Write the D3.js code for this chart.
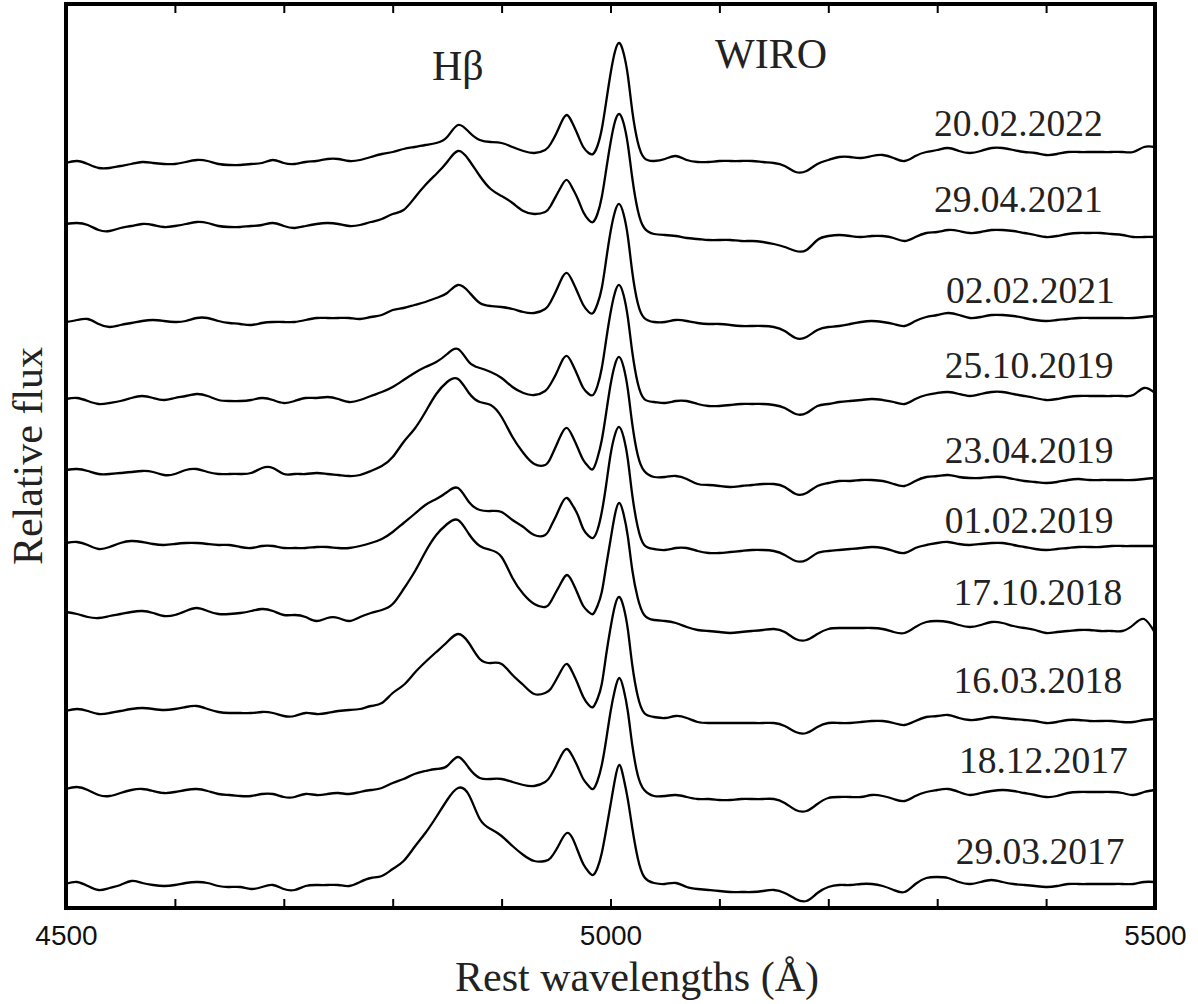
<!DOCTYPE html>
<html><head><meta charset="utf-8">
<script src="https://cdn.jsdelivr.net/npm/d3@7"></script>
<style>body{margin:0;background:#fff}</style>
</head><body>
<svg id="chart" width="1198" height="1004"></svg>
<script>
// ---- data ----
const wavelengths = [
4500,4510,4520,4530,4540,4550,4560,4570,4580,4590,
4600,4610,4620,4630,4640,4650,4660,4670,4680,4690,
4700,4710,4720,4730,4740,4750,4760,4770,4780,4790,
4800,4810,4820,4830,4840,4850,4860,4870,4880,4890,
4900,4910,4920,4930,4940,
4945,4950,4955,4960,4965,4970,4975,4980,4984,4988,4992,4996,5000,5004,5008,5012,5016,5020,5025,5031,
5040,5050,5060,5070,5080,5090,5100,5110,5120,5130,
5140,5150,5160,5170,5180,5190,5200,5210,5220,5230,
5240,5250,5260,5270,5280,5290,5300,5310,5320,5330,
5340,5350,5360,5370,5380,5390,5400,5410,5420,5430,
5440,5450,5460,5470,5480,5490,5500];

const dates = ["20.02.2022","29.04.2021","02.02.2021","25.10.2019","23.04.2019",
               "01.02.2019","17.10.2018","16.03.2018","18.12.2017","29.03.2017"];

// vertical shift of each spectrum (relative flux units)
const offsets = [745, 684, 587, 510, 438, 365, 295, 197, 119, 23];

const flux_20220220 = [
0,2,-1,-5,-5,-3,-1,1,0,-1,
-1,1,3,2,-1,-2,-2,-1,0,3,
0,-1,1,2,4,4,2,3,6,9,
11,14,16,18,20,26,38,31,23,21,
20,16,12,10,13,
19,29,41,48,40,28,16,10,9,17,34,61,89,111,120,110,87,52,21,5,
2,4,7,3,1,1,2,2,2,2,
1,0,-3,-9,-8,-1,3,6,6,5,
7,8,5,2,7,11,13,15,12,10,
12,15,15,13,11,10,8,9,11,11,
11,11,11,11,11,16,16];

const flux_20210429 = [
0,1,-1,-6,-7,-4,-2,0,-1,-3,
-2,0,2,1,-2,-3,-3,-2,-1,1,
-2,-4,-2,0,1,0,-2,-1,2,5,
10,14,26,39,50,62,73,64,48,35,
28,21,13,10,12,
18,28,38,44,36,25,12,4,2,10,27,54,81,102,110,101,79,46,14,-4,
-10,-11,-12,-14,-15,-16,-16,-16,-17,-17,
-18,-20,-23,-27,-26,-16,-12,-11,-12,-13,
-12,-12,-14,-17,-13,-9,-8,-6,-7,-9,
-8,-6,-6,-7,-9,-11,-13,-12,-10,-9,
-9,-9,-10,-11,-13,-13,-13];

const flux_20210202 = [
-1,1,2,-3,-6,-4,-2,0,1,0,
-1,0,3,3,0,-2,-3,-4,-2,-1,
-1,-1,1,3,3,3,3,2,4,6,
11,13,16,19,23,28,36,29,18,15,
14,12,9,8,12,
19,30,42,48,40,28,16,9,8,17,33,61,89,109,117,107,84,49,18,3,
-1,-1,1,0,-2,-3,-3,-4,-5,-5,
-5,-6,-10,-17,-16,-9,-6,-5,-3,-1,
0,-1,-3,-5,0,4,6,8,6,3,
4,6,6,5,3,1,0,1,2,3,
3,3,3,3,3,4,5];

const flux_20191025 = [
-1,0,-3,-6,-5,-3,0,2,0,-2,
0,2,4,2,-2,-3,-3,-2,0,-2,
-5,-3,0,0,1,-1,-4,-2,2,6,
11,18,25,31,36,44,49,36,30,26,
20,11,5,3,7,
14,24,36,42,34,22,10,4,3,12,30,58,85,105,113,103,80,46,15,-1,
-4,-5,-3,-3,-6,-8,-8,-7,-6,-6,
-6,-7,-10,-16,-15,-8,-6,-4,-3,-2,
-1,-2,-4,-6,-1,3,5,6,4,2,
4,6,6,4,2,0,-2,-1,1,2,
2,2,2,2,3,10,5];

const flux_20190423 = [
0,1,-1,-4,-4,-3,-2,-1,-2,-5,
-4,0,1,-2,-4,-4,-4,-3,2,2,
-4,-4,-4,-3,-4,-5,-6,-5,-1,4,
13,28,41,58,76,88,91,77,68,65,
53,33,17,6,5,
12,24,36,42,34,22,10,3,1,12,30,57,85,105,113,103,80,46,15,-1,
-7,-7,-6,-9,-14,-15,-16,-17,-16,-15,
-14,-14,-17,-24,-23,-16,-13,-11,-11,-10,
-10,-11,-14,-16,-11,-7,-6,-5,-7,-8,
-8,-7,-7,-9,-11,-12,-13,-12,-10,-9,
-10,-10,-10,-10,-10,-9,-8];

const flux_20190201 = [
0,1,-2,-6,-4,0,2,1,-1,-2,
-1,0,0,-1,-2,-2,-4,-5,-3,-3,
-5,-5,-5,-4,-4,-5,-5,-3,0,4,
11,20,29,38,44,51,55,41,33,32,
31,23,16,8,8,
16,27,39,45,38,28,14,7,5,13,31,58,88,108,116,106,83,48,16,-2,
-6,-7,-5,-5,-8,-10,-10,-9,-8,-7,
-7,-8,-12,-18,-17,-10,-8,-7,-6,-5,
-4,-5,-8,-10,-5,-2,0,1,-1,-2,
-1,0,0,-2,-4,-6,-7,-6,-5,-4,
-4,-4,-3,-3,-3,-3,-3];

const flux_20181017 = [
1,-1,-4,-5,-3,-1,1,2,0,-3,
-2,2,5,2,-1,-1,0,2,4,2,
-2,-2,-4,-8,-5,-5,-8,-4,0,3,
9,24,41,61,78,89,93,79,67,63,
56,35,19,9,6,
11,21,31,38,31,19,7,1,-1,7,21,47,73,98,110,99,76,43,15,-2,
-7,-8,-10,-14,-17,-18,-19,-20,-19,-18,
-17,-16,-19,-26,-27,-21,-16,-15,-15,-15,
-15,-16,-19,-20,-14,-9,-8,-9,-12,-14,
-12,-9,-10,-13,-15,-17,-20,-19,-18,-17,
-17,-18,-18,-18,-12,-6,-20];

const flux_20180316 = [
0,2,0,-3,-2,0,2,3,2,1,
2,4,5,2,-1,-2,-2,-2,-1,-2,
-5,-5,-2,-3,-2,0,1,2,5,8,
18,26,38,49,59,69,77,68,52,48,
47,36,26,17,18,
22,31,41,47,39,27,14,6,4,12,27,56,83,105,114,104,81,46,15,-2,
-6,-7,-5,-7,-11,-12,-12,-12,-12,-12,
-12,-12,-15,-21,-22,-16,-12,-12,-12,-11,
-10,-10,-12,-14,-10,-6,-5,-4,-7,-9,
-8,-6,-7,-8,-9,-10,-12,-11,-9,-9,
-10,-10,-10,-11,-11,-9,-8];

const flux_20171218 = [
0,2,-1,-6,-7,-4,-1,0,-2,-4,
-3,-1,0,-2,-5,-6,-7,-7,-5,-5,
-8,-8,-5,-6,-5,-4,-5,-3,-1,1,
6,10,15,18,20,23,32,21,11,10,
10,7,4,3,7,
13,23,34,40,33,22,10,3,0,8,24,49,77,99,111,100,77,44,14,-1,
-7,-7,-6,-8,-10,-10,-11,-11,-10,-10,
-10,-10,-14,-21,-22,-15,-9,-8,-8,-8,
-6,-7,-10,-12,-7,-3,-1,0,-3,-6,
-4,-2,-1,-2,-4,-6,-8,-7,-4,-3,
-3,-3,-3,-4,-6,-3,-1];

const flux_20170329 = [
1,3,-1,-5,-3,0,4,2,0,-1,
0,2,3,2,-1,-2,-2,-4,-2,0,
-4,-5,-1,0,0,0,-1,3,7,9,
16,24,38,52,68,85,97,90,66,56,
49,39,30,24,24,
27,35,45,52,47,34,21,13,10,17,32,55,80,105,120,107,85,57,27,8,
2,1,2,-2,-4,-5,-6,-7,-7,-7,
-6,-5,-8,-14,-16,-8,-2,0,0,1,
1,-1,-5,-7,1,7,8,7,3,1,
3,5,3,1,0,-1,-2,-1,1,1,
1,1,1,1,1,3,3];

const spectra = [flux_20220220, flux_20210429, flux_20210202, flux_20191025, flux_20190423,
                 flux_20190201, flux_20181017, flux_20180316, flux_20171218, flux_20170329];

const xTicks = [4500,4600,4700,4800,4900,5000,5100,5200,5300,5400,5500];
const xTickLabels = {4500:"4500", 5000:"5000", 5500:"5500"};

// ---- layout ----
const W = 1198, H = 1004;
const L = 66, R = 1155, T = 4, B = 908;
// label anchors (wavelength of text start, flux of baseline)
const labelLambda = [5297,5297,5308,5307,5307,5307,5315,5315,5320,5317];
const labelFlux   = [772,696,605,530,445,375,303,215,135,44];

spectra.forEach((s,i)=>{ if (s.length !== wavelengths.length) throw new Error("length mismatch in series "+i+": "+s.length); });

const svg = d3.select("#chart");
const x = d3.scaleLinear().domain([4500,5500]).range([L,R]);
const y = d3.scaleLinear().domain([0,904]).range([B,T]);

const serif = "'Liberation Serif','Times New Roman',Times,serif";
const sans = "'Liberation Sans',Arial,Helvetica,sans-serif";

// axes
const gB = svg.append("g").attr("transform",`translate(0,${B})`)
  .call(d3.axisBottom(x).tickValues(xTicks).tickSize(-9).tickPadding(17)
        .tickFormat(d => xTickLabels[d] || ""));
gB.select(".domain").remove();
gB.selectAll(".tick line").attr("stroke","#000").attr("stroke-width",2);
gB.selectAll(".tick text").attr("font-family",sans).attr("font-size",28).attr("fill","#111");

const gT = svg.append("g").attr("transform",`translate(0,${T})`)
  .call(d3.axisTop(x).tickValues(xTicks).tickSize(-9).tickFormat(""));
gT.select(".domain").remove();
gT.selectAll(".tick line").attr("stroke","#000").attr("stroke-width",2);

// spectra
const line = d3.line()
  .x((d,i) => x(wavelengths[i]))
  .y(d => y(d))
  .curve(d3.curveNatural);

svg.append("g").selectAll("path").data(spectra).join("path")
  .attr("d", (s,k) => line(s.map(v => v + offsets[k])))
  .attr("fill","none").attr("stroke","#000").attr("stroke-width",2.3)
  .attr("stroke-linejoin","round");

// frame
svg.append("rect").attr("x",L).attr("y",T).attr("width",R-L).attr("height",B-T)
  .attr("fill","none").attr("stroke","#000").attr("stroke-width",4);

// date labels
svg.append("g").selectAll("text").data(dates).join("text")
  .attr("x",(d,i)=>x(labelLambda[i])).attr("y",(d,i)=>y(labelFlux[i]))
  .attr("font-family",serif).attr("font-size",37.5).attr("fill","#222")
  .text(d=>d);

svg.append("text").attr("x",x(4836)).attr("y",y(828))
  .attr("font-family",serif).attr("font-size",42).attr("fill","#222").text("Hβ");
svg.append("text").attr("x",x(5096)).attr("y",y(840))
  .attr("font-family",serif).attr("font-size",42).attr("fill","#222").text("WIRO");

// axis titles
svg.append("text").attr("x",637).attr("y",991).attr("text-anchor","middle")
  .attr("font-family",serif).attr("font-size",42).attr("fill","#222")
  .text("Rest wavelengths (Å)");
svg.append("text").attr("transform","translate(42,456) rotate(-90)").attr("text-anchor","middle")
  .attr("font-family",serif).attr("font-size",42).attr("fill","#222")
  .text("Relative flux");
</script>
</body></html>
